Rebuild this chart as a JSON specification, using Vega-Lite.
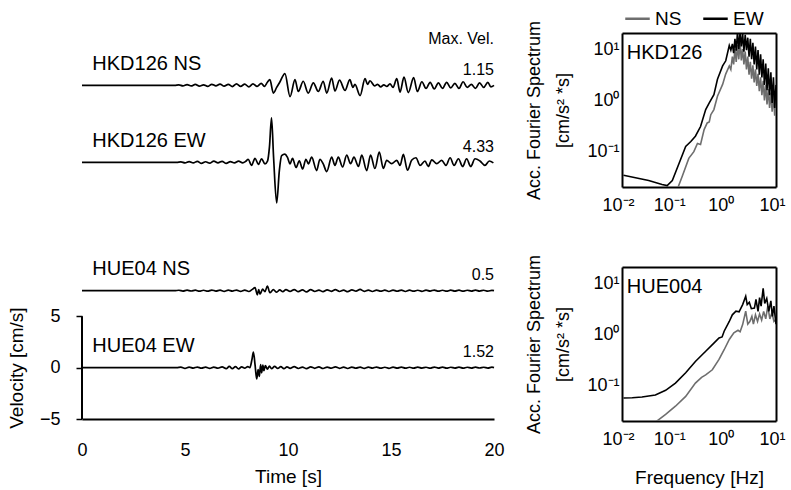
{
"$schema": "https://vega.github.io/schema/vega-lite/v6.json",
"background": "white",
"padding": {"left": 7, "top": 5, "right": 5, "bottom": 5},
"config": {
  "font": "Liberation Sans",
  "view": {"stroke": null},
  "axis": {"grid": false, "labelFont": "Liberation Sans", "titleFont": "Liberation Sans", "labelFontSize": 18, "titleFontSize": 19, "titleFontWeight": "normal", "labelColor": "black", "titleColor": "black", "domainColor": "black", "tickColor": "black"},
  "legend": {"labelFont": "Liberation Sans"},
  "text": {"font": "Liberation Sans", "color": "black"}
},
"datasets": {
  "tr": [
    {"s":"HN","t":0,"v":0},{"s":"HN","t":4.5,"v":0},{"s":"HN","t":4.7,"v":0.05},{"s":"HN","t":4.9,"v":-0.05},{"s":"HN","t":5.1,"v":0.08},{"s":"HN","t":5.3,"v":-0.06},{"s":"HN","t":5.5,"v":0.1},{"s":"HN","t":5.7,"v":-0.08},{"s":"HN","t":5.9,"v":0.05},{"s":"HN","t":6.1,"v":-0.1},{"s":"HN","t":6.3,"v":0.1},{"s":"HN","t":6.5,"v":-0.05},{"s":"HN","t":6.7,"v":0.12},{"s":"HN","t":6.9,"v":-0.08},{"s":"HN","t":7.1,"v":0.1},{"s":"HN","t":7.3,"v":-0.12},{"s":"HN","t":7.5,"v":0.15},{"s":"HN","t":7.7,"v":-0.1},{"s":"HN","t":7.9,"v":0.12},{"s":"HN","t":8.1,"v":-0.15},{"s":"HN","t":8.3,"v":0.15},{"s":"HN","t":8.5,"v":-0.1},{"s":"HN","t":8.7,"v":0.2},{"s":"HN","t":8.85,"v":-0.1},{"s":"HN","t":9.0,"v":0.3},{"s":"HN","t":9.12,"v":0.55},{"s":"HN","t":9.29,"v":-0.75},{"s":"HN","t":9.45,"v":-0.2},{"s":"HN","t":9.6,"v":0.3},{"s":"HN","t":9.85,"v":1.15},{"s":"HN","t":10.1,"v":-1.1},{"s":"HN","t":10.34,"v":0.55},{"s":"HN","t":10.5,"v":-0.6},{"s":"HN","t":10.74,"v":0.4},{"s":"HN","t":10.98,"v":-0.75},{"s":"HN","t":11.23,"v":0.25},{"s":"HN","t":11.47,"v":-0.6},{"s":"HN","t":11.71,"v":0.4},{"s":"HN","t":11.88,"v":-0.75},{"s":"HN","t":12.12,"v":0.7},{"s":"HN","t":12.28,"v":-0.55},{"s":"HN","t":12.5,"v":0.5},{"s":"HN","t":12.77,"v":-0.5},{"s":"HN","t":13.0,"v":0.55},{"s":"HN","t":13.15,"v":-0.2},{"s":"HN","t":13.25,"v":0.1},{"s":"HN","t":13.5,"v":-1.0},{"s":"HN","t":13.74,"v":0.65},{"s":"HN","t":13.86,"v":0.1},{"s":"HN","t":13.98,"v":0.45},{"s":"HN","t":14.2,"v":-0.05},{"s":"HN","t":14.35,"v":0.1},{"s":"HN","t":14.5,"v":-0.15},{"s":"HN","t":14.65,"v":0.05},{"s":"HN","t":14.8,"v":-0.1},{"s":"HN","t":14.95,"v":0.15},{"s":"HN","t":15.1,"v":-0.2},{"s":"HN","t":15.28,"v":0.65},{"s":"HN","t":15.44,"v":-0.65},{"s":"HN","t":15.63,"v":0.8},{"s":"HN","t":15.84,"v":-0.7},{"s":"HN","t":16.1,"v":0.75},{"s":"HN","t":16.28,"v":-0.6},{"s":"HN","t":16.5,"v":0.35},{"s":"HN","t":16.7,"v":-0.3},{"s":"HN","t":16.9,"v":0.3},{"s":"HN","t":17.1,"v":-0.35},{"s":"HN","t":17.3,"v":0.25},{"s":"HN","t":17.5,"v":-0.3},{"s":"HN","t":17.7,"v":0.3},{"s":"HN","t":17.9,"v":-0.25},{"s":"HN","t":18.1,"v":0.2},{"s":"HN","t":18.3,"v":-0.3},{"s":"HN","t":18.5,"v":0.35},{"s":"HN","t":18.7,"v":-0.2},{"s":"HN","t":18.9,"v":0.1},{"s":"HN","t":19.1,"v":-0.3},{"s":"HN","t":19.3,"v":0.25},{"s":"HN","t":19.5,"v":-0.2},{"s":"HN","t":19.7,"v":0.3},{"s":"HN","t":19.85,"v":-0.15},{"s":"HN","t":20,"v":0},
    {"s":"HE","t":0,"v":0},{"s":"HE","t":4.6,"v":0},{"s":"HE","t":4.8,"v":0.05},{"s":"HE","t":5.0,"v":-0.05},{"s":"HE","t":5.2,"v":0.08},{"s":"HE","t":5.4,"v":-0.06},{"s":"HE","t":5.6,"v":0.1},{"s":"HE","t":5.8,"v":-0.1},{"s":"HE","t":6.0,"v":0.06},{"s":"HE","t":6.2,"v":-0.08},{"s":"HE","t":6.4,"v":0.12},{"s":"HE","t":6.6,"v":-0.05},{"s":"HE","t":6.8,"v":0.1},{"s":"HE","t":7.0,"v":-0.1},{"s":"HE","t":7.2,"v":0.08},{"s":"HE","t":7.4,"v":-0.06},{"s":"HE","t":7.6,"v":0.12},{"s":"HE","t":7.8,"v":-0.05},{"s":"HE","t":7.95,"v":0.1},{"s":"HE","t":8.07,"v":0.3},{"s":"HE","t":8.23,"v":-0.3},{"s":"HE","t":8.4,"v":0.4},{"s":"HE","t":8.56,"v":-0.2},{"s":"HE","t":8.72,"v":0.35},{"s":"HE","t":8.88,"v":-0.15},{"s":"HE","t":9.01,"v":0.15},{"s":"HE","t":9.1,"v":1.5},{"s":"HE","t":9.2,"v":4.33},{"s":"HE","t":9.3,"v":0.5},{"s":"HE","t":9.45,"v":-3.95},{"s":"HE","t":9.58,"v":-0.8},{"s":"HE","t":9.69,"v":0.65},{"s":"HE","t":9.85,"v":0.8},{"s":"HE","t":9.97,"v":0.5},{"s":"HE","t":10.1,"v":-0.15},{"s":"HE","t":10.22,"v":0.4},{"s":"HE","t":10.39,"v":-0.5},{"s":"HE","t":10.55,"v":0.15},{"s":"HE","t":10.71,"v":-0.65},{"s":"HE","t":10.87,"v":0.3},{"s":"HE","t":10.99,"v":-0.15},{"s":"HE","t":11.15,"v":0.5},{"s":"HE","t":11.39,"v":-0.8},{"s":"HE","t":11.55,"v":0.3},{"s":"HE","t":11.71,"v":-0.15},{"s":"HE","t":11.88,"v":-0.9},{"s":"HE","t":12.12,"v":0.5},{"s":"HE","t":12.28,"v":-0.3},{"s":"HE","t":12.44,"v":0.5},{"s":"HE","t":12.65,"v":-0.45},{"s":"HE","t":12.85,"v":0.7},{"s":"HE","t":13.04,"v":-0.13},{"s":"HE","t":13.2,"v":0.5},{"s":"HE","t":13.42,"v":-0.4},{"s":"HE","t":13.58,"v":0.7},{"s":"HE","t":13.82,"v":-0.8},{"s":"HE","t":14.01,"v":0.7},{"s":"HE","t":14.22,"v":-0.6},{"s":"HE","t":14.43,"v":1.0},{"s":"HE","t":14.63,"v":-0.6},{"s":"HE","t":14.79,"v":0.2},{"s":"HE","t":15.03,"v":-0.13},{"s":"HE","t":15.28,"v":0.2},{"s":"HE","t":15.44,"v":-0.3},{"s":"HE","t":15.6,"v":0.77},{"s":"HE","t":15.8,"v":-0.77},{"s":"HE","t":16.0,"v":0.2},{"s":"HE","t":16.21,"v":0.45},{"s":"HE","t":16.41,"v":-0.3},{"s":"HE","t":16.65,"v":0.13},{"s":"HE","t":16.81,"v":-0.4},{"s":"HE","t":16.98,"v":0.25},{"s":"HE","t":17.22,"v":-0.13},{"s":"HE","t":17.46,"v":0.2},{"s":"HE","t":17.67,"v":-0.3},{"s":"HE","t":17.87,"v":0.45},{"s":"HE","t":18.06,"v":-0.3},{"s":"HE","t":18.27,"v":0.35},{"s":"HE","t":18.48,"v":-0.4},{"s":"HE","t":18.67,"v":0.35},{"s":"HE","t":18.87,"v":-0.4},{"s":"HE","t":19.08,"v":0.35},{"s":"HE","t":19.32,"v":0.13},{"s":"HE","t":19.56,"v":-0.3},{"s":"HE","t":19.77,"v":0.13},{"s":"HE","t":19.97,"v":-0.05},
    {"s":"UN","t":0,"v":0},{"s":"UN","t":4.5,"v":0},{"s":"UN","t":4.7,"v":0.04},{"s":"UN","t":4.9,"v":-0.04},{"s":"UN","t":5.1,"v":0.05},{"s":"UN","t":5.3,"v":-0.03},{"s":"UN","t":5.5,"v":0.05},{"s":"UN","t":5.7,"v":-0.05},{"s":"UN","t":5.9,"v":0.04},{"s":"UN","t":6.1,"v":-0.05},{"s":"UN","t":6.3,"v":0.06},{"s":"UN","t":6.5,"v":-0.04},{"s":"UN","t":6.7,"v":0.05},{"s":"UN","t":6.9,"v":-0.06},{"s":"UN","t":7.1,"v":0.05},{"s":"UN","t":7.3,"v":-0.04},{"s":"UN","t":7.5,"v":0.06},{"s":"UN","t":7.7,"v":-0.06},{"s":"UN","t":7.9,"v":0.05},{"s":"UN","t":8.1,"v":-0.08},{"s":"UN","t":8.25,"v":0.1},{"s":"UN","t":8.4,"v":0.3},{"s":"UN","t":8.51,"v":-0.4},{"s":"UN","t":8.58,"v":0.1},{"s":"UN","t":8.64,"v":-0.35},{"s":"UN","t":8.77,"v":0.15},{"s":"UN","t":8.88,"v":-0.1},{"s":"UN","t":9.0,"v":0.45},{"s":"UN","t":9.12,"v":-0.2},{"s":"UN","t":9.29,"v":0.1},{"s":"UN","t":9.45,"v":-0.15},{"s":"UN","t":9.6,"v":0.08},{"s":"UN","t":9.75,"v":-0.1},{"s":"UN","t":9.9,"v":0.1},{"s":"UN","t":10.1,"v":-0.08},{"s":"UN","t":10.3,"v":0.1},{"s":"UN","t":10.5,"v":-0.1},{"s":"UN","t":10.7,"v":0.08},{"s":"UN","t":10.9,"v":-0.12},{"s":"UN","t":11.1,"v":0.1},{"s":"UN","t":11.3,"v":-0.08},{"s":"UN","t":11.5,"v":0.06},{"s":"UN","t":11.7,"v":-0.1},{"s":"UN","t":11.9,"v":0.08},{"s":"UN","t":12.1,"v":-0.06},{"s":"UN","t":12.3,"v":0.1},{"s":"UN","t":12.5,"v":-0.08},{"s":"UN","t":12.7,"v":0.05},{"s":"UN","t":12.9,"v":-0.1},{"s":"UN","t":13.1,"v":0.08},{"s":"UN","t":13.3,"v":-0.05},{"s":"UN","t":13.5,"v":0.12},{"s":"UN","t":13.7,"v":-0.06},{"s":"UN","t":13.9,"v":0.05},{"s":"UN","t":14.1,"v":-0.08},{"s":"UN","t":14.3,"v":0.06},{"s":"UN","t":14.5,"v":-0.05},{"s":"UN","t":14.7,"v":0.05},{"s":"UN","t":14.9,"v":-0.08},{"s":"UN","t":15.1,"v":0.06},{"s":"UN","t":15.3,"v":-0.05},{"s":"UN","t":15.5,"v":0.06},{"s":"UN","t":15.7,"v":-0.08},{"s":"UN","t":15.9,"v":0.05},{"s":"UN","t":16.1,"v":-0.05},{"s":"UN","t":16.3,"v":0.04},{"s":"UN","t":16.5,"v":-0.06},{"s":"UN","t":16.7,"v":0.05},{"s":"UN","t":16.9,"v":-0.04},{"s":"UN","t":17.1,"v":0.06},{"s":"UN","t":17.3,"v":-0.05},{"s":"UN","t":17.5,"v":0.04},{"s":"UN","t":17.7,"v":-0.05},{"s":"UN","t":17.9,"v":0.05},{"s":"UN","t":18.1,"v":-0.04},{"s":"UN","t":18.3,"v":0.05},{"s":"UN","t":18.5,"v":-0.05},{"s":"UN","t":18.7,"v":0.04},{"s":"UN","t":18.9,"v":-0.04},{"s":"UN","t":19.1,"v":0.05},{"s":"UN","t":19.3,"v":-0.04},{"s":"UN","t":19.5,"v":0.04},{"s":"UN","t":19.7,"v":-0.05},{"s":"UN","t":19.9,"v":0.03},{"s":"UN","t":20,"v":0},
    {"s":"UE","t":0,"v":0},{"s":"UE","t":4.6,"v":0},{"s":"UE","t":4.8,"v":0.05},{"s":"UE","t":5.0,"v":-0.06},{"s":"UE","t":5.2,"v":0.05},{"s":"UE","t":5.4,"v":-0.04},{"s":"UE","t":5.6,"v":0.06},{"s":"UE","t":5.8,"v":-0.05},{"s":"UE","t":6.0,"v":0.05},{"s":"UE","t":6.2,"v":-0.06},{"s":"UE","t":6.4,"v":0.06},{"s":"UE","t":6.6,"v":-0.05},{"s":"UE","t":6.8,"v":0.08},{"s":"UE","t":7.0,"v":-0.1},{"s":"UE","t":7.15,"v":0.12},{"s":"UE","t":7.3,"v":-0.1},{"s":"UE","t":7.45,"v":0.1},{"s":"UE","t":7.6,"v":-0.12},{"s":"UE","t":7.75,"v":0.08},{"s":"UE","t":7.9,"v":-0.05},{"s":"UE","t":8.05,"v":0.1},{"s":"UE","t":8.15,"v":0.0},{"s":"UE","t":8.25,"v":0.8},{"s":"UE","t":8.32,"v":1.52},{"s":"UE","t":8.4,"v":0.3},{"s":"UE","t":8.48,"v":-1.1},{"s":"UE","t":8.55,"v":-0.2},{"s":"UE","t":8.61,"v":-0.85},{"s":"UE","t":8.67,"v":0.3},{"s":"UE","t":8.72,"v":-0.5},{"s":"UE","t":8.78,"v":0.25},{"s":"UE","t":8.83,"v":-0.3},{"s":"UE","t":8.9,"v":0.2},{"s":"UE","t":9.0,"v":-0.15},{"s":"UE","t":9.1,"v":0.15},{"s":"UE","t":9.2,"v":-0.1},{"s":"UE","t":9.35,"v":0.12},{"s":"UE","t":9.5,"v":-0.08},{"s":"UE","t":9.65,"v":0.1},{"s":"UE","t":9.8,"v":-0.1},{"s":"UE","t":9.95,"v":0.08},{"s":"UE","t":10.1,"v":-0.06},{"s":"UE","t":10.3,"v":0.1},{"s":"UE","t":10.5,"v":-0.08},{"s":"UE","t":10.7,"v":0.06},{"s":"UE","t":10.9,"v":-0.1},{"s":"UE","t":11.1,"v":0.08},{"s":"UE","t":11.3,"v":-0.06},{"s":"UE","t":11.5,"v":0.08},{"s":"UE","t":11.7,"v":-0.08},{"s":"UE","t":11.9,"v":0.06},{"s":"UE","t":12.1,"v":-0.05},{"s":"UE","t":12.3,"v":0.08},{"s":"UE","t":12.5,"v":-0.06},{"s":"UE","t":12.7,"v":0.05},{"s":"UE","t":12.9,"v":-0.08},{"s":"UE","t":13.1,"v":0.06},{"s":"UE","t":13.3,"v":-0.05},{"s":"UE","t":13.5,"v":0.05},{"s":"UE","t":13.7,"v":-0.06},{"s":"UE","t":13.9,"v":0.05},{"s":"UE","t":14.1,"v":-0.04},{"s":"UE","t":14.3,"v":0.06},{"s":"UE","t":14.5,"v":-0.05},{"s":"UE","t":14.7,"v":0.04},{"s":"UE","t":14.9,"v":-0.06},{"s":"UE","t":15.1,"v":0.05},{"s":"UE","t":15.3,"v":-0.04},{"s":"UE","t":15.5,"v":0.05},{"s":"UE","t":15.7,"v":-0.05},{"s":"UE","t":15.9,"v":0.04},{"s":"UE","t":16.1,"v":-0.05},{"s":"UE","t":16.3,"v":0.05},{"s":"UE","t":16.5,"v":-0.04},{"s":"UE","t":16.7,"v":0.04},{"s":"UE","t":16.9,"v":-0.05},{"s":"UE","t":17.1,"v":0.06},{"s":"UE","t":17.3,"v":-0.04},{"s":"UE","t":17.5,"v":0.05},{"s":"UE","t":17.7,"v":-0.05},{"s":"UE","t":17.9,"v":0.04},{"s":"UE","t":18.1,"v":-0.04},{"s":"UE","t":18.3,"v":0.05},{"s":"UE","t":18.5,"v":-0.05},{"s":"UE","t":18.7,"v":0.04},{"s":"UE","t":18.9,"v":-0.04},{"s":"UE","t":19.1,"v":0.05},{"s":"UE","t":19.3,"v":-0.03},{"s":"UE","t":19.5,"v":0.04},{"s":"UE","t":19.7,"v":-0.04},{"s":"UE","t":19.9,"v":0.05},{"s":"UE","t":20,"v":0}
  ],
  "sp": [
    {"st":"HKD126","c":"EW","f":0.0107,"A":0.0347},{"st":"HKD126","c":"EW","f":0.0331,"A":0.0275},{"st":"HKD126","c":"EW","f":0.0603,"A":0.0229},{"st":"HKD126","c":"EW","f":0.0759,"A":0.0219},{"st":"HKD126","c":"EW","f":0.0955,"A":0.0275},{"st":"HKD126","c":"EW","f":0.129,"A":0.0589},{"st":"HKD126","c":"EW","f":0.174,"A":0.126},{"st":"HKD126","c":"EW","f":0.219,"A":0.158},{"st":"HKD126","c":"EW","f":0.269,"A":0.2},{"st":"HKD126","c":"EW","f":0.339,"A":0.309},{"st":"HKD126","c":"EW","f":0.427,"A":0.661},{"st":"HKD126","c":"EW","f":0.501,"A":0.891},{"st":"HKD126","c":"EW","f":0.617,"A":1.29},{"st":"HKD126","c":"EW","f":0.724,"A":2.57},{"st":"HKD126","c":"EW","f":0.912,"A":4.68},{"st":"HKD126","c":"EW","f":1.05,"A":5.89},{"st":"HKD126","c":"EW","f":1.23,"A":11.7},{"st":"HKD126","c":"EW","f":1.32,"A":9.5},{"st":"HKD126","c":"EW","f":1.413,"A":12.6},{"st":"HKD126","c":"EW","f":1.496,"A":8.3},{"st":"HKD126","c":"EW","f":1.585,"A":15.8},{"st":"HKD126","c":"EW","f":1.679,"A":9.3},{"st":"HKD126","c":"EW","f":1.778,"A":21.4},{"st":"HKD126","c":"EW","f":1.884,"A":10},{"st":"HKD126","c":"EW","f":1.995,"A":21.4},{"st":"HKD126","c":"EW","f":2.113,"A":11.2},{"st":"HKD126","c":"EW","f":2.239,"A":20},{"st":"HKD126","c":"EW","f":2.371,"A":8.9},{"st":"HKD126","c":"EW","f":2.512,"A":19},{"st":"HKD126","c":"EW","f":2.661,"A":9.5},{"st":"HKD126","c":"EW","f":2.818,"A":16.6},{"st":"HKD126","c":"EW","f":2.985,"A":7.1},{"st":"HKD126","c":"EW","f":3.162,"A":15.8},{"st":"HKD126","c":"EW","f":3.35,"A":6.3},{"st":"HKD126","c":"EW","f":3.548,"A":13.2},{"st":"HKD126","c":"EW","f":3.758,"A":5.0},{"st":"HKD126","c":"EW","f":3.981,"A":11.2},{"st":"HKD126","c":"EW","f":4.217,"A":4.0},{"st":"HKD126","c":"EW","f":4.467,"A":9.5},{"st":"HKD126","c":"EW","f":4.732,"A":3.16},{"st":"HKD126","c":"EW","f":5.012,"A":7.9},{"st":"HKD126","c":"EW","f":5.309,"A":2.8},{"st":"HKD126","c":"EW","f":5.623,"A":6.3},{"st":"HKD126","c":"EW","f":5.957,"A":2.0},{"st":"HKD126","c":"EW","f":6.31,"A":5.2},{"st":"HKD126","c":"EW","f":6.683,"A":1.58},{"st":"HKD126","c":"EW","f":7.079,"A":4.2},{"st":"HKD126","c":"EW","f":7.499,"A":1.26},{"st":"HKD126","c":"EW","f":7.943,"A":3.5},{"st":"HKD126","c":"EW","f":8.414,"A":0.89},{"st":"HKD126","c":"EW","f":8.913,"A":2.8},{"st":"HKD126","c":"EW","f":9.441,"A":0.71},{"st":"HKD126","c":"EW","f":10,"A":2.0},
    {"st":"HKD126","c":"NS","f":0.1175,"A":0.0178},{"st":"HKD126","c":"NS","f":0.148,"A":0.0324},{"st":"HKD126","c":"NS","f":0.2,"A":0.074},{"st":"HKD126","c":"NS","f":0.251,"A":0.1},{"st":"HKD126","c":"NS","f":0.295,"A":0.145},{"st":"HKD126","c":"NS","f":0.339,"A":0.138},{"st":"HKD126","c":"NS","f":0.398,"A":0.269},{"st":"HKD126","c":"NS","f":0.457,"A":0.363},{"st":"HKD126","c":"NS","f":0.501,"A":0.38},{"st":"HKD126","c":"NS","f":0.537,"A":0.525},{"st":"HKD126","c":"NS","f":0.617,"A":0.661},{"st":"HKD126","c":"NS","f":0.724,"A":1.2},{"st":"HKD126","c":"NS","f":0.912,"A":2.04},{"st":"HKD126","c":"NS","f":1.047,"A":3.24},{"st":"HKD126","c":"NS","f":1.23,"A":4.68},{"st":"HKD126","c":"NS","f":1.318,"A":4.0},{"st":"HKD126","c":"NS","f":1.413,"A":7.1},{"st":"HKD126","c":"NS","f":1.496,"A":5.0},{"st":"HKD126","c":"NS","f":1.585,"A":10},{"st":"HKD126","c":"NS","f":1.679,"A":5.6},{"st":"HKD126","c":"NS","f":1.778,"A":12},{"st":"HKD126","c":"NS","f":1.884,"A":6.3},{"st":"HKD126","c":"NS","f":1.995,"A":14.1},{"st":"HKD126","c":"NS","f":2.113,"A":6.0},{"st":"HKD126","c":"NS","f":2.239,"A":10},{"st":"HKD126","c":"NS","f":2.371,"A":5.0},{"st":"HKD126","c":"NS","f":2.512,"A":8.9},{"st":"HKD126","c":"NS","f":2.661,"A":4.0},{"st":"HKD126","c":"NS","f":2.818,"A":7.1},{"st":"HKD126","c":"NS","f":2.985,"A":3.16},{"st":"HKD126","c":"NS","f":3.162,"A":5.6},{"st":"HKD126","c":"NS","f":3.35,"A":2.63},{"st":"HKD126","c":"NS","f":3.548,"A":4.8},{"st":"HKD126","c":"NS","f":3.758,"A":2.24},{"st":"HKD126","c":"NS","f":3.981,"A":4.0},{"st":"HKD126","c":"NS","f":4.217,"A":1.9},{"st":"HKD126","c":"NS","f":4.467,"A":3.3},{"st":"HKD126","c":"NS","f":4.732,"A":1.5},{"st":"HKD126","c":"NS","f":5.012,"A":2.8},{"st":"HKD126","c":"NS","f":5.309,"A":1.26},{"st":"HKD126","c":"NS","f":5.623,"A":2.4},{"st":"HKD126","c":"NS","f":5.957,"A":1.0},{"st":"HKD126","c":"NS","f":6.31,"A":2.0},{"st":"HKD126","c":"NS","f":6.683,"A":0.83},{"st":"HKD126","c":"NS","f":7.079,"A":1.66},{"st":"HKD126","c":"NS","f":7.499,"A":0.71},{"st":"HKD126","c":"NS","f":7.943,"A":1.41},{"st":"HKD126","c":"NS","f":8.414,"A":0.6},{"st":"HKD126","c":"NS","f":8.913,"A":1.26},{"st":"HKD126","c":"NS","f":9.441,"A":0.5},{"st":"HKD126","c":"NS","f":10,"A":1.12},
    {"st":"HUE004","c":"EW","f":0.0107,"A":0.0575},{"st":"HUE004","c":"EW","f":0.0158,"A":0.0582},{"st":"HUE004","c":"EW","f":0.0245,"A":0.0603},{"st":"HUE004","c":"EW","f":0.0447,"A":0.066},{"st":"HUE004","c":"EW","f":0.0708,"A":0.0813},{"st":"HUE004","c":"EW","f":0.11,"A":0.112},{"st":"HUE004","c":"EW","f":0.174,"A":0.178},{"st":"HUE004","c":"EW","f":0.269,"A":0.295},{"st":"HUE004","c":"EW","f":0.427,"A":0.468},{"st":"HUE004","c":"EW","f":0.617,"A":0.676},{"st":"HUE004","c":"EW","f":0.776,"A":0.851},{"st":"HUE004","c":"EW","f":0.891,"A":0.891},{"st":"HUE004","c":"EW","f":0.977,"A":1.15},{"st":"HUE004","c":"EW","f":1.23,"A":1.78},{"st":"HUE004","c":"EW","f":1.41,"A":2.4},{"st":"HUE004","c":"EW","f":1.66,"A":2.82},{"st":"HUE004","c":"EW","f":1.91,"A":2.75},{"st":"HUE004","c":"EW","f":2.24,"A":3.8},{"st":"HUE004","c":"EW","f":2.57,"A":5.5},{"st":"HUE004","c":"EW","f":2.75,"A":3.8},{"st":"HUE004","c":"EW","f":3.02,"A":4.2},{"st":"HUE004","c":"EW","f":3.31,"A":3.16},{"st":"HUE004","c":"EW","f":3.8,"A":3.24},{"st":"HUE004","c":"EW","f":4.07,"A":4.8},{"st":"HUE004","c":"EW","f":4.47,"A":2.8},{"st":"HUE004","c":"EW","f":4.79,"A":5.2},{"st":"HUE004","c":"EW","f":5.13,"A":3.55},{"st":"HUE004","c":"EW","f":5.62,"A":7.9},{"st":"HUE004","c":"EW","f":6.03,"A":4.0},{"st":"HUE004","c":"EW","f":6.6,"A":5.0},{"st":"HUE004","c":"EW","f":7.24,"A":2.8},{"st":"HUE004","c":"EW","f":7.94,"A":4.5},{"st":"HUE004","c":"EW","f":8.51,"A":2.24},{"st":"HUE004","c":"EW","f":9.12,"A":3.55},{"st":"HUE004","c":"EW","f":10,"A":1.58},
    {"st":"HUE004","c":"NS","f":0.0398,"A":0.0178},{"st":"HUE004","c":"NS","f":0.0708,"A":0.0275},{"st":"HUE004","c":"NS","f":0.11,"A":0.0398},{"st":"HUE004","c":"NS","f":0.174,"A":0.0617},{"st":"HUE004","c":"NS","f":0.269,"A":0.112},{"st":"HUE004","c":"NS","f":0.355,"A":0.145},{"st":"HUE004","c":"NS","f":0.427,"A":0.162},{"st":"HUE004","c":"NS","f":0.575,"A":0.204},{"st":"HUE004","c":"NS","f":0.776,"A":0.324},{"st":"HUE004","c":"NS","f":0.977,"A":0.501},{"st":"HUE004","c":"NS","f":1.23,"A":0.794},{"st":"HUE004","c":"NS","f":1.51,"A":1.07},{"st":"HUE004","c":"NS","f":1.82,"A":1.2},{"st":"HUE004","c":"NS","f":2.0,"A":1.12},{"st":"HUE004","c":"NS","f":2.24,"A":1.55},{"st":"HUE004","c":"NS","f":2.57,"A":2.82},{"st":"HUE004","c":"NS","f":2.82,"A":1.58},{"st":"HUE004","c":"NS","f":3.09,"A":1.78},{"st":"HUE004","c":"NS","f":3.39,"A":2.24},{"st":"HUE004","c":"NS","f":3.63,"A":1.58},{"st":"HUE004","c":"NS","f":3.98,"A":2.4},{"st":"HUE004","c":"NS","f":4.37,"A":1.78},{"st":"HUE004","c":"NS","f":4.79,"A":2.5},{"st":"HUE004","c":"NS","f":5.25,"A":1.9},{"st":"HUE004","c":"NS","f":5.75,"A":2.8},{"st":"HUE004","c":"NS","f":6.31,"A":2.0},{"st":"HUE004","c":"NS","f":6.92,"A":3.55},{"st":"HUE004","c":"NS","f":7.59,"A":2.0},{"st":"HUE004","c":"NS","f":8.32,"A":2.63},{"st":"HUE004","c":"NS","f":9.12,"A":1.78},{"st":"HUE004","c":"NS","f":10,"A":1.95}
  ]
},
"hconcat": [
  {
    "width": 412, "height": 386,
    "layer": [
      {"data": {"name": "tr"}, "transform": [{"filter": "datum.s === 'HN'"}], "mark": {"type": "line", "stroke": "black", "strokeWidth": 1.7, "interpolate": "monotone"},
       "encoding": {"x": {"field": "t", "type": "quantitative", "scale": {"domain": [0, 20], "nice": false}, "axis": null},
                    "y": {"field": "v", "type": "quantitative", "scale": {"domain": [-32.5, 5.1], "nice": false, "zero": false}, "axis": null}}},
      {"data": {"values": [{"name": "HKD126 NS", "mv": "1.15"}]}, "mark": {"type": "text", "align": "left", "baseline": "alphabetic", "fontSize": 20},
       "encoding": {"x": {"datum": 0.5, "type": "quantitative", "axis": null}, "y": {"datum": 1.5, "type": "quantitative", "scale": {"domain": [-32.5, 5.1], "nice": false, "zero": false}, "axis": null}, "text": {"field": "name"}}},
      {"data": {"values": [{"name": "HKD126 NS", "mv": "1.15"}]}, "mark": {"type": "text", "align": "right", "baseline": "alphabetic", "fontSize": 16},
       "encoding": {"x": {"datum": 20, "type": "quantitative", "axis": null}, "y": {"datum": 1.0, "type": "quantitative", "scale": {"domain": [-32.5, 5.1], "nice": false, "zero": false}, "axis": null}, "text": {"field": "mv"}}},
      {"data": {"values": [{"h": "Max. Vel."}]}, "mark": {"type": "text", "align": "right", "baseline": "alphabetic", "fontSize": 16},
       "encoding": {"x": {"datum": 20, "type": "quantitative", "axis": null}, "y": {"datum": 4.0, "type": "quantitative", "scale": {"domain": [-32.5, 5.1], "nice": false, "zero": false}, "axis": null}, "text": {"field": "h"}}},
      {"data": {"name": "tr"}, "transform": [{"filter": "datum.s === 'HE'"}], "mark": {"type": "line", "stroke": "black", "strokeWidth": 1.7, "interpolate": "monotone"},
       "encoding": {"x": {"field": "t", "type": "quantitative", "scale": {"domain": [0, 20], "nice": false}, "axis": null},
                    "y": {"field": "v", "type": "quantitative", "scale": {"domain": [-25, 12.6], "nice": false, "zero": false}, "axis": null}}},
      {"data": {"values": [{"name": "HKD126 EW", "mv": "4.33"}]}, "mark": {"type": "text", "align": "left", "baseline": "alphabetic", "fontSize": 20},
       "encoding": {"x": {"datum": 0.5, "type": "quantitative", "axis": null}, "y": {"datum": 1.5, "type": "quantitative", "scale": {"domain": [-25, 12.6], "nice": false, "zero": false}, "axis": null}, "text": {"field": "name"}}},
      {"data": {"values": [{"name": "HKD126 EW", "mv": "4.33"}]}, "mark": {"type": "text", "align": "right", "baseline": "alphabetic", "fontSize": 16},
       "encoding": {"x": {"datum": 20, "type": "quantitative", "axis": null}, "y": {"datum": 1.0, "type": "quantitative", "scale": {"domain": [-25, 12.6], "nice": false, "zero": false}, "axis": null}, "text": {"field": "mv"}}},
      {"data": {"name": "tr"}, "transform": [{"filter": "datum.s === 'UN'"}], "mark": {"type": "line", "stroke": "black", "strokeWidth": 1.7, "interpolate": "monotone"},
       "encoding": {"x": {"field": "t", "type": "quantitative", "scale": {"domain": [0, 20], "nice": false}, "axis": null},
                    "y": {"field": "v", "type": "quantitative", "scale": {"domain": [-12.5, 25.1], "nice": false, "zero": false}, "axis": null}}},
      {"data": {"values": [{"name": "HUE04 NS", "mv": "0.5"}]}, "mark": {"type": "text", "align": "left", "baseline": "alphabetic", "fontSize": 20},
       "encoding": {"x": {"datum": 0.5, "type": "quantitative", "axis": null}, "y": {"datum": 1.5, "type": "quantitative", "scale": {"domain": [-12.5, 25.1], "nice": false, "zero": false}, "axis": null}, "text": {"field": "name"}}},
      {"data": {"values": [{"name": "HUE04 NS", "mv": "0.5"}]}, "mark": {"type": "text", "align": "right", "baseline": "alphabetic", "fontSize": 16},
       "encoding": {"x": {"datum": 20, "type": "quantitative", "axis": null}, "y": {"datum": 1.0, "type": "quantitative", "scale": {"domain": [-12.5, 25.1], "nice": false, "zero": false}, "axis": null}, "text": {"field": "mv"}}},
      {"data": {"name": "tr"}, "transform": [{"filter": "datum.s === 'UE'"}], "mark": {"type": "line", "stroke": "black", "strokeWidth": 1.7, "interpolate": "monotone"},
       "encoding": {
         "x": {"field": "t", "type": "quantitative", "scale": {"domain": [0, 20], "nice": false},
               "axis": {"title": "Time [s]", "values": [0,1,2,3,4,5,6,7,8,9,10,11,12,13,14,15,16,17,18,19,20], "labelExpr": "datum.value % 5 === 0 ? datum.label : ''", "tickSize": 0, "tickWidth": 1.5, "encode": {"ticks": {"update": {"y2": {"signal": "datum.value % 5 === 0 ? 8 : 5"}}}}, "labelPadding": 22, "titlePadding": 8, "domainWidth": 2, "labelFlush": false, "labelOverlap": false}},
         "y": {"field": "v", "type": "quantitative", "scale": {"domain": [-5, 32.6], "nice": false, "zero": false},
               "axis": {"title": "Velocity [cm/s]", "values": [-5, 0, 5], "domain": false, "tickSize": 6, "tickWidth": 1.5, "labelPadding": 16, "titlePadding": 13, "titleY": 334.6, "labelFlush": false}}}},
      {"data": {"values": [{"name": "HUE04 EW", "mv": "1.52"}]}, "mark": {"type": "text", "align": "left", "baseline": "alphabetic", "fontSize": 20},
       "encoding": {"x": {"datum": 0.5, "type": "quantitative", "axis": null}, "y": {"datum": 1.5, "type": "quantitative", "scale": {"domain": [-5, 32.6], "nice": false, "zero": false}, "axis": null}, "text": {"field": "name"}}},
      {"data": {"values": [{"name": "HUE04 EW", "mv": "1.52"}]}, "mark": {"type": "text", "align": "right", "baseline": "alphabetic", "fontSize": 16},
       "encoding": {"x": {"datum": 20, "type": "quantitative", "axis": null}, "y": {"datum": 1.0, "type": "quantitative", "scale": {"domain": [-5, 32.6], "nice": false, "zero": false}, "axis": null}, "text": {"field": "mv"}}},
      {"data": {"values": [{"lo": -5, "hi": 5}]}, "mark": {"type": "rule", "stroke": "black", "strokeWidth": 2},
       "encoding": {"x": {"datum": 0, "type": "quantitative", "axis": null}, "y": {"field": "lo", "type": "quantitative", "scale": {"domain": [-5, 32.6], "nice": false, "zero": false}, "axis": null}, "y2": {"field": "hi"}}}
    ],
    "resolve": {"scale": {"y": "independent"}, "axis": {"x": "independent", "y": "independent"}}
  },
  {
    "spacing": 40,
    "vconcat": [
      {
        "width": 154, "height": 154,
        "layer": [
          {"data": {"name": "sp"}, "transform": [{"filter": "datum.st === 'HKD126' && datum.c === 'NS'"}], "mark": {"type": "line", "strokeWidth": 1.6, "clip": true},
           "encoding": {
             "x": {"field": "f", "type": "quantitative", "scale": {"type": "log", "domain": [0.01, 10], "nice": false},
                   "axis": {"title": null, "values": [0.01,0.02,0.03,0.04,0.05,0.06,0.07,0.08,0.09,0.1,0.2,0.3,0.4,0.5,0.6,0.7,0.8,0.9,1,2,3,4,5,6,7,8,9,10], "labelExpr": "datum.value === 0.01 ? '10⁻²' : datum.value === 0.1 ? '10⁻¹' : datum.value === 1 ? '10⁰' : datum.value === 10 ? '10¹' : ''", "tickSize": 0, "tickWidth": 1.2, "encode": {"ticks": {"update": {"y2": {"signal": "(datum.value === 0.01 || datum.value === 0.1 || datum.value === 1 || datum.value === 10) ? -7 : -4"}}}}, "labelPadding": 9, "labelOffset": -4, "labelFontSize": 18, "domainWidth": 2, "labelFlush": false, "labelOverlap": false}},
             "y": {"field": "A", "type": "quantitative", "scale": {"type": "log", "domain": [0.0205, 20.5], "nice": false},
                   "axis": {"title": ["Acc. Fourier Spectrum", "[cm/s² *s]"], "titleFontSize": 18, "titleLineHeight": 29, "titlePadding": 14, "values": [0.03,0.04,0.05,0.06,0.07,0.08,0.09,0.1,0.2,0.3,0.4,0.5,0.6,0.7,0.8,0.9,1,2,3,4,5,6,7,8,9,10,20], "labelExpr": "datum.value === 0.1 ? '10⁻¹' : datum.value === 1 ? '10⁰' : datum.value === 10 ? '10¹' : ''", "tickSize": 0, "tickWidth": 1.2, "encode": {"ticks": {"update": {"x2": {"signal": "(datum.value === 0.1 || datum.value === 1 || datum.value === 10) ? 7 : 4"}}}}, "labelPadding": 3, "labelFontSize": 18, "domainWidth": 2, "labelFlush": false, "labelOverlap": false}},
             "color": {"field": "c", "type": "nominal", "scale": {"domain": ["NS", "EW"], "range": ["#6e6e6e", "#000000"]},
                       "legend": {"title": null, "orient": "none", "legendX": 2, "legendY": -28, "direction": "horizontal", "symbolType": "stroke", "symbolSize": 600, "symbolStrokeWidth": 2.5, "labelFontSize": 19, "labelColor": "black", "columnPadding": 16, "labelOffset": 4}}}},
          {"data": {"name": "sp"}, "transform": [{"filter": "datum.st === 'HKD126' && datum.c === 'EW'"}], "mark": {"type": "line", "strokeWidth": 1.6, "clip": true},
           "encoding": {
             "x": {"field": "f", "type": "quantitative", "scale": {"type": "log", "domain": [0.01, 10], "nice": false},
                   "axis": {"orient": "top", "title": null, "labels": false, "values": [0.01,0.02,0.03,0.04,0.05,0.06,0.07,0.08,0.09,0.1,0.2,0.3,0.4,0.5,0.6,0.7,0.8,0.9,1,2,3,4,5,6,7,8,9,10], "tickSize": 0, "tickWidth": 1.2, "encode": {"ticks": {"update": {"y2": {"signal": "(datum.value === 0.01 || datum.value === 0.1 || datum.value === 1 || datum.value === 10) ? 7 : 4"}}}}, "domainWidth": 2}},
             "y": {"field": "A", "type": "quantitative", "scale": {"type": "log", "domain": [0.0205, 20.5], "nice": false},
                   "axis": {"orient": "right", "title": null, "labels": false, "values": [0.03,0.04,0.05,0.06,0.07,0.08,0.09,0.1,0.2,0.3,0.4,0.5,0.6,0.7,0.8,0.9,1,2,3,4,5,6,7,8,9,10,20], "tickSize": 0, "tickWidth": 1.2, "encode": {"ticks": {"update": {"x2": {"signal": "(datum.value === 0.1 || datum.value === 1 || datum.value === 10) ? -7 : -4"}}}}, "domainWidth": 2}},
             "color": {"field": "c", "type": "nominal", "scale": {"domain": ["NS", "EW"], "range": ["#6e6e6e", "#000000"]}, "legend": null}}},
          {"data": {"values": [{"name": "HKD126"}]}, "mark": {"type": "text", "align": "left", "baseline": "alphabetic", "fontSize": 20},
           "encoding": {"x": {"datum": 0.0124, "type": "quantitative", "scale": {"type": "log", "domain": [0.01, 10], "nice": false}, "axis": null},
                        "y": {"datum": 6.3, "type": "quantitative", "scale": {"type": "log", "domain": [0.0205, 20.5], "nice": false}, "axis": null},
                        "text": {"field": "name"}}}
        ],
        "resolve": {"axis": {"x": "independent", "y": "independent"}}
      },
      {
        "width": 154, "height": 154,
        "layer": [
          {"data": {"name": "sp"}, "transform": [{"filter": "datum.st === 'HUE004' && datum.c === 'NS'"}], "mark": {"type": "line", "strokeWidth": 1.6, "clip": true},
           "encoding": {
             "x": {"field": "f", "type": "quantitative", "scale": {"type": "log", "domain": [0.01, 10], "nice": false},
                   "axis": {"title": "Frequency [Hz]", "titlePadding": 20, "values": [0.01,0.02,0.03,0.04,0.05,0.06,0.07,0.08,0.09,0.1,0.2,0.3,0.4,0.5,0.6,0.7,0.8,0.9,1,2,3,4,5,6,7,8,9,10], "labelExpr": "datum.value === 0.01 ? '10⁻²' : datum.value === 0.1 ? '10⁻¹' : datum.value === 1 ? '10⁰' : datum.value === 10 ? '10¹' : ''", "tickSize": 0, "tickWidth": 1.2, "encode": {"ticks": {"update": {"y2": {"signal": "(datum.value === 0.01 || datum.value === 0.1 || datum.value === 1 || datum.value === 10) ? -7 : -4"}}}}, "labelPadding": 9, "labelOffset": -4, "labelFontSize": 18, "domainWidth": 2, "labelFlush": false, "labelOverlap": false}},
             "y": {"field": "A", "type": "quantitative", "scale": {"type": "log", "domain": [0.0205, 20.5], "nice": false},
                   "axis": {"title": ["Acc. Fourier Spectrum", "[cm/s² *s]"], "titleFontSize": 18, "titleLineHeight": 29, "titlePadding": 14, "values": [0.03,0.04,0.05,0.06,0.07,0.08,0.09,0.1,0.2,0.3,0.4,0.5,0.6,0.7,0.8,0.9,1,2,3,4,5,6,7,8,9,10,20], "labelExpr": "datum.value === 0.1 ? '10⁻¹' : datum.value === 1 ? '10⁰' : datum.value === 10 ? '10¹' : ''", "tickSize": 0, "tickWidth": 1.2, "encode": {"ticks": {"update": {"x2": {"signal": "(datum.value === 0.1 || datum.value === 1 || datum.value === 10) ? 7 : 4"}}}}, "labelPadding": 3, "labelFontSize": 18, "domainWidth": 2, "labelFlush": false, "labelOverlap": false}},
             "color": {"field": "c", "type": "nominal", "scale": {"domain": ["NS", "EW"], "range": ["#6e6e6e", "#000000"]}, "legend": null}}},
          {"data": {"name": "sp"}, "transform": [{"filter": "datum.st === 'HUE004' && datum.c === 'EW'"}], "mark": {"type": "line", "strokeWidth": 1.6, "clip": true},
           "encoding": {
             "x": {"field": "f", "type": "quantitative", "scale": {"type": "log", "domain": [0.01, 10], "nice": false},
                   "axis": {"orient": "top", "title": null, "labels": false, "values": [0.01,0.02,0.03,0.04,0.05,0.06,0.07,0.08,0.09,0.1,0.2,0.3,0.4,0.5,0.6,0.7,0.8,0.9,1,2,3,4,5,6,7,8,9,10], "tickSize": 0, "tickWidth": 1.2, "encode": {"ticks": {"update": {"y2": {"signal": "(datum.value === 0.01 || datum.value === 0.1 || datum.value === 1 || datum.value === 10) ? 7 : 4"}}}}, "domainWidth": 2}},
             "y": {"field": "A", "type": "quantitative", "scale": {"type": "log", "domain": [0.0205, 20.5], "nice": false},
                   "axis": {"orient": "right", "title": null, "labels": false, "values": [0.03,0.04,0.05,0.06,0.07,0.08,0.09,0.1,0.2,0.3,0.4,0.5,0.6,0.7,0.8,0.9,1,2,3,4,5,6,7,8,9,10,20], "tickSize": 0, "tickWidth": 1.2, "encode": {"ticks": {"update": {"x2": {"signal": "(datum.value === 0.1 || datum.value === 1 || datum.value === 10) ? -7 : -4"}}}}, "domainWidth": 2}},
             "color": {"field": "c", "type": "nominal", "scale": {"domain": ["NS", "EW"], "range": ["#6e6e6e", "#000000"]}, "legend": null}}},
          {"data": {"values": [{"name": "HUE004"}]}, "mark": {"type": "text", "align": "left", "baseline": "alphabetic", "fontSize": 20},
           "encoding": {"x": {"datum": 0.0124, "type": "quantitative", "scale": {"type": "log", "domain": [0.01, 10], "nice": false}, "axis": null},
                        "y": {"datum": 6.4, "type": "quantitative", "scale": {"type": "log", "domain": [0.0205, 20.5], "nice": false}, "axis": null},
                        "text": {"field": "name"}}}
        ],
        "resolve": {"axis": {"x": "independent", "y": "independent"}}
      }
    ],
    "resolve": {"scale": {"color": "independent"}, "legend": {"color": "independent"}}
  }
],
"spacing": 20
}
